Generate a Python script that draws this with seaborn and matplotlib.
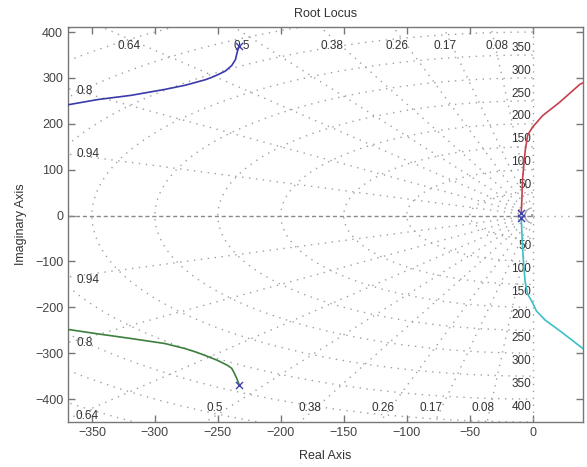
import numpy as np
import pandas as pd
import matplotlib
matplotlib.use("Agg")
import matplotlib.pyplot as plt
import seaborn as sns

# ---- data ----
blue_re = [-233, -234, -235, -236, -239, -244, -250, -255, -260, -268, -276, -292, -319, -345, -372]
blue_im = [369, 362, 352, 340, 327, 315, 307, 301, 296, 290, 284, 275, 262, 253, 240]
green_re = [-233, -235, -237, -239, -242, -250, -260, -268, -276, -292, -319, -345, -372]
green_im = [-369, -355, -343, -333, -327, -316, -305, -297, -290, -279, -268, -258, -247]
red_re = [-9, -8.5, -8, -7, -6, -4, 0, 8, 21.5, 37.5, 42]
red_im = [6, 40, 80, 110, 139, 175, 193, 218, 247, 286, 292]
cyan_re = [-9, -8.5, -8, -7, -6, -4, 0, 3, 10, 21.5, 40, 42]
cyan_im = [-6, -40, -71, -110, -143, -171, -190, -208, -228, -251, -290, -293]
pole_re = [-233, -233, -9, -9]
pole_im = [369, -369, 6, -6]

zeta_vals = [0.94, 0.8, 0.64, 0.5, 0.38, 0.26, 0.17, 0.08]
zeta_labels = ["0.94", "0.8", "0.64", "0.5", "0.38", "0.26", "0.17", "0.08"]
wn_vals = [50, 100, 150, 200, 250, 300, 350, 400, 450, 500, 550]
wn_labels = ["50", "100", "150", "200", "250", "300", "350", "400"]

x_ticks = [-350, -300, -250, -200, -150, -100, -50, 0]
y_ticks = [-400, -300, -200, -100, 0, 100, 200, 300, 400]

XLIM = (-369, 40)
YLIM = (-450, 411)

# label nudges (style): horizontal shift of the top / bottom damping labels
top_shift = {"0.64": -12, "0.5": -17, "0.38": -7, "0.26": -8, "0.17": -6, "0.08": 1}
bot_shift = {"0.5": -10, "0.38": -4, "0.26": -6, "0.17": -8, "0.08": -6}

sns.set_theme(style="white")
plt.rcParams["font.family"] = ["Liberation Sans", "DejaVu Sans"]

fig = plt.figure(figsize=(5.87, 4.67), dpi=100)
ax = fig.add_axes([68 / 587, 45 / 467, (583 - 68) / 587, (422 - 27) / 467])

grid_kw = dict(color="#a0a0a0", lw=1.0, ls=(0, (1, 4)), zorder=1)

# natural frequency semicircles (left half plane)
th = np.linspace(np.pi / 2, 3 * np.pi / 2, 400)
for wn in wn_vals:
    ax.plot(wn * np.cos(th), wn * np.sin(th), **grid_kw)

# damping rays
R = 800
for z in zeta_vals:
    ang = np.arccos(z)
    ax.plot([0, -R * np.cos(ang)], [0, R * np.sin(ang)], **grid_kw)
    ax.plot([0, -R * np.cos(ang)], [0, -R * np.sin(ang)], **grid_kw)

# axes lines
ax.plot([-R, 0], [0, 0], color="#8a8a8a", lw=1.0, ls=(0, (3, 2)), zorder=1)
ax.plot([0, R], [0, 0], **grid_kw)
ax.plot([0, 0], [-R, R], **grid_kw)

# zeta labels
lab_kw = dict(fontsize=8.5, color="#333333", zorder=3)
for z, lab in zip(zeta_vals, zeta_labels):
    s = np.tan(np.arccos(z))
    xt = -370 / s
    if xt > -357:
        ax.text(xt + top_shift.get(lab, -8), 370, lab, ha="center", va="center", **lab_kw)
    else:
        ax.text(-362, 357 * s + 4, lab, ha="left", va="center", **lab_kw)
    xb = -420 / s
    if xb > -357:
        if xb - 7 > -345:
            ax.text(xb + bot_shift.get(lab, -7), -420, lab, ha="center", va="center", **lab_kw)
        else:
            ax.text(-354, -437, lab, ha="center", va="center", **lab_kw)
    else:
        ax.text(-362, -357 * s - 10, lab, ha="left", va="center", **lab_kw)

# wn labels
for wn, lab in zip(wn_vals, wn_labels):
    if wn + 16 < YLIM[1] - 12:
        ax.text(-1, wn + 16, lab, ha="right", va="center", **lab_kw)
    if -wn - 17 > YLIM[0] + 12:
        ax.text(-1, -wn - 17, lab, ha="right", va="center", **lab_kw)

# root locus branches
branches = [
    (blue_re, blue_im, "#3a3aa8"),
    (green_re, green_im, "#3c7f3c"),
    (red_re, red_im, "#c4404f"),
    (cyan_re, cyan_im, "#3cbfc4"),
]
for re_, im_, col in branches:
    df = pd.DataFrame({"re": re_, "im": im_})
    sns.lineplot(data=df, x="re", y="im", sort=False, estimator=None,
                 color=col, lw=1.2, ax=ax, zorder=4)

pdf = pd.DataFrame({"re": pole_re, "im": pole_im})
sns.scatterplot(data=pdf, x="re", y="im", marker="x", color="#4040b0",
                s=26, linewidth=1.0, ax=ax, zorder=6)

ax.set_xlim(*XLIM)
ax.set_ylim(*YLIM)
ax.set_xticks(x_ticks)
ax.set_yticks(y_ticks)
ax.tick_params(direction="in", length=5, width=1, colors="#777777",
               labelcolor="#444444", labelsize=9, top=True, right=True,
               bottom=True, left=True)
for sp in ax.spines.values():
    sp.set_color("#777777")
    sp.set_linewidth(1.0)

ax.set_title("Root Locus", fontsize=9, color="#333333", pad=7)
ax.set_xlabel("Real Axis", fontsize=9, color="#333333", labelpad=8)
ax.set_ylabel("Imaginary Axis", fontsize=9, color="#333333", labelpad=6)

fig.savefig("out.png", dpi=100)
